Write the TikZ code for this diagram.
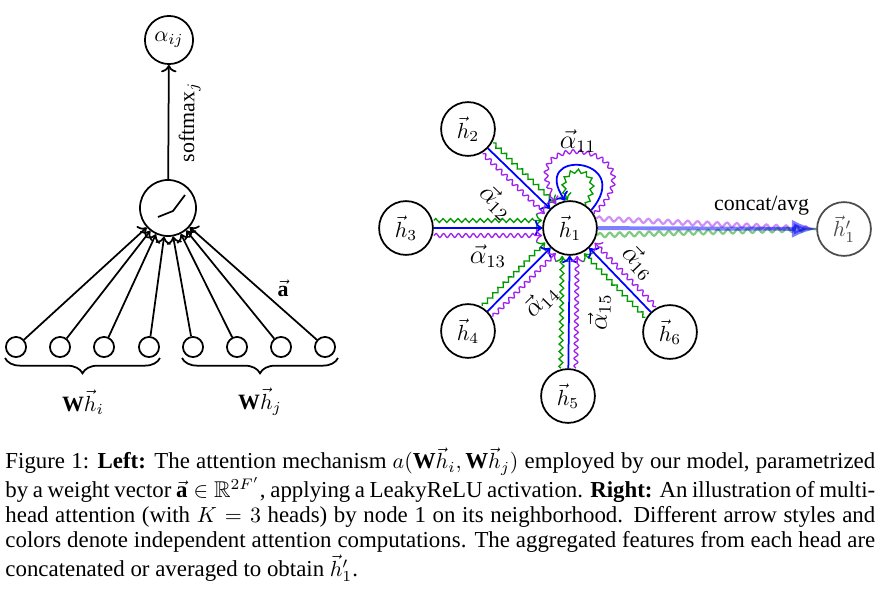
\documentclass[tikz,border=0pt]{standalone}
\usepackage{amsmath,amssymb}
\usepackage{fontspec}
\setmainfont{Liberation Serif}
\usepackage{xcolor}
\usepackage{tikz}
\usetikzlibrary{arrows.meta,positioning,calc,decorations.pathmorphing,decorations.pathreplacing}

\definecolor{headgreen}{RGB}{0,153,0}
\definecolor{headpurple}{RGB}{160,32,240}

\begin{document}
\begin{tikzpicture}[
        x=0.457pt, y=0.457pt,
        unit/.style={draw, thick, circle, inner sep=0pt, minimum size=9.2pt},
        neuron/.style={draw, thick, circle, inner sep=0pt, minimum size=25.6pt},
        feat/.style={draw, thick, circle, inner sep=0pt, minimum size=24.6pt},
        line/.style={->, thick},
        headB/.style={->, thick, blue},
        headG/.style={->, semithick, headgreen, decorate, decoration={zigzag, amplitude=0.9pt, segment length=3.4pt, post length=2pt}},
        headP/.style={->, semithick, headpurple, decorate, decoration={snake, amplitude=0.9pt, segment length=3.4pt, post length=2pt}},
        att/.style={text=black, font=\large},
        brc/.style={thick, decorate, decoration={brace, mirror, amplitude=7pt}}
    ]
        \useasboundingbox (0,0) rectangle (888,602);

        % left: single attention unit
        \node[unit] (x1) at (16,255) {};
        \node[unit] (x2) at (60,255) {};
        \node[unit] (x3) at (104,255) {};
        \node[unit] (x4) at (149,255) {};
        \node[unit] (x5) at (193,255) {};
        \node[unit] (x6) at (237,255) {};
        \node[unit] (x7) at (281,255) {};
        \node[unit] (x8) at (325,255) {};
        \node[neuron] (act) at (168,394) {};
        \draw[thick] ($(act)+(-10,-9)$) -- ($(act)+(5,-3)$) -- ($(act)+(17,13)$);
        \node[neuron, minimum size=22pt] (alpha) at (169,562) {$\alpha_{ij}$};
        \draw[line] (act) -- node[sloped, below=1pt] {softmax$_j$} (alpha);
        \draw[line] (x1) -- (act);
        \draw[line] (x2) -- (act);
        \draw[line] (x3) -- (act);
        \draw[line] (x4) -- (act);
        \draw[line] (x5) -- (act);
        \draw[line] (x6) -- (act);
        \draw[line] (x7) -- (act);
        \draw[line] (x8) -- (act);
        \node (avec) at (283,314) {$\vec{\mathbf{a}}$};
        \draw[brc] (5,244) -- (160,244);
        \draw[brc] (182,244) -- (338,244);
        \node (whi) at (83,200) {$\mathbf{W}\vec{h}_i$};
        \node (whj) at (260,200) {$\mathbf{W}\vec{h}_j$};

        % right: multi-head attention on node 1
        \node[feat] (h1) at (570,374) {$\vec{h}_1$};
        \node[feat] (h2) at (468,473) {$\vec{h}_2$};
        \node[feat] (h3) at (406,374) {$\vec{h}_3$};
        \node[feat] (h4) at (468,271) {$\vec{h}_4$};
        \node[feat] (h5) at (568,206) {$\vec{h}_5$};
        \node[feat] (h6) at (670,270) {$\vec{h}_6$};
        \node[feat, draw=black!70, text=black!70] (h1p) at (844,373) {$\vec{h}'_1$};

        \draw[headG, transform canvas={shift={(5.3,5.3)}}] (h2) -- (h1);
        \draw[headB] (h2) -- node[att, sloped, below=6pt] {$\vec{\alpha}_{12}$} (h1);
        \draw[headP, transform canvas={shift={(-5.3,-5.3)}}] (h2) -- (h1);

        \draw[headG, transform canvas={shift={(0,7.5)}}] (h3) -- (h1);
        \draw[headB] (h3) -- node[att, below=4pt] {$\vec{\alpha}_{13}$} (h1);
        \draw[headP, transform canvas={shift={(0,-7.5)}}] (h3) -- (h1);

        \draw[headG, transform canvas={shift={(-5.3,5.3)}}] (h4) -- (h1);
        \draw[headB] (h4) -- node[att, sloped, below=5pt] {$\vec{\alpha}_{14}$} (h1);
        \draw[headP, transform canvas={shift={(5.3,-5.3)}}] (h4) -- (h1);

        \draw[headG, transform canvas={shift={(-7.5,0)}}] (h5) -- (h1);
        \draw[headB] (h5) -- node[att, sloped, below=5pt] {$\vec{\alpha}_{15}$} (h1);
        \draw[headP, transform canvas={shift={(7.5,0)}}] (h5) -- (h1);

        \draw[headG, transform canvas={shift={(-5.3,-5.3)}}] (h6) -- (h1);
        \draw[headB] (h6) -- node[att, sloped, above=3pt] {$\vec{\alpha}_{16}$} (h1);
        \draw[headP, transform canvas={shift={(5.3,5.3)}}] (h6) -- (h1);

        % self-attention loops
        \draw[headG] (h1.55) .. controls +(60:50) and +(115:45) .. (h1.95);
        \draw[headB] (h1.40) .. controls +(50:70) and +(125:65) .. (h1.100);
        \draw[headP] (h1.30) .. controls +(45:100) and +(125:95) .. (h1.120);
        \node[att] (a11) at (578,461) {$\vec{\alpha}_{11}$};

        % aggregation of the heads
        \draw[headpurple, opacity=.5, line width=1pt, decorate, decoration={snake, amplitude=1pt, segment length=4.5pt, post length=3pt}] (h1.20) -- (h1p.west);
        \draw[headgreen, opacity=.5, line width=1pt, decorate, decoration={snake, amplitude=1pt, segment length=4.5pt, post length=3pt}] (h1.-15) -- (h1p.west);
        \draw[-{Latex}, blue, opacity=.5, line width=1.8pt] (h1) -- node[pos=.75, above=2pt, text=black, text opacity=1] {concat/avg} (h1p);

        % caption
        \node[anchor=north west, text width=397.5pt, align=justify, inner sep=0pt, font=\fontsize{10.45}{11.4}\selectfont] (cap) at (5,155) {Figure 1: \textbf{Left:} The attention mechanism $a(\mathbf{W}\vec{h}_i, \mathbf{W}\vec{h}_j)$ employed by our model, parametrized by a weight vector $\vec{\mathbf{a}} \in \mathbb{R}^{2F'}$, applying a LeakyReLU activation. \textbf{Right:} An illustration of multi-head attention (with $K = 3$ heads) by node 1 on its neighborhood. Different arrow styles and colors denote independent attention computations. The aggregated features from each head are concatenated or averaged to obtain $\vec{h}'_1$.};
    \end{tikzpicture}
\end{document}
